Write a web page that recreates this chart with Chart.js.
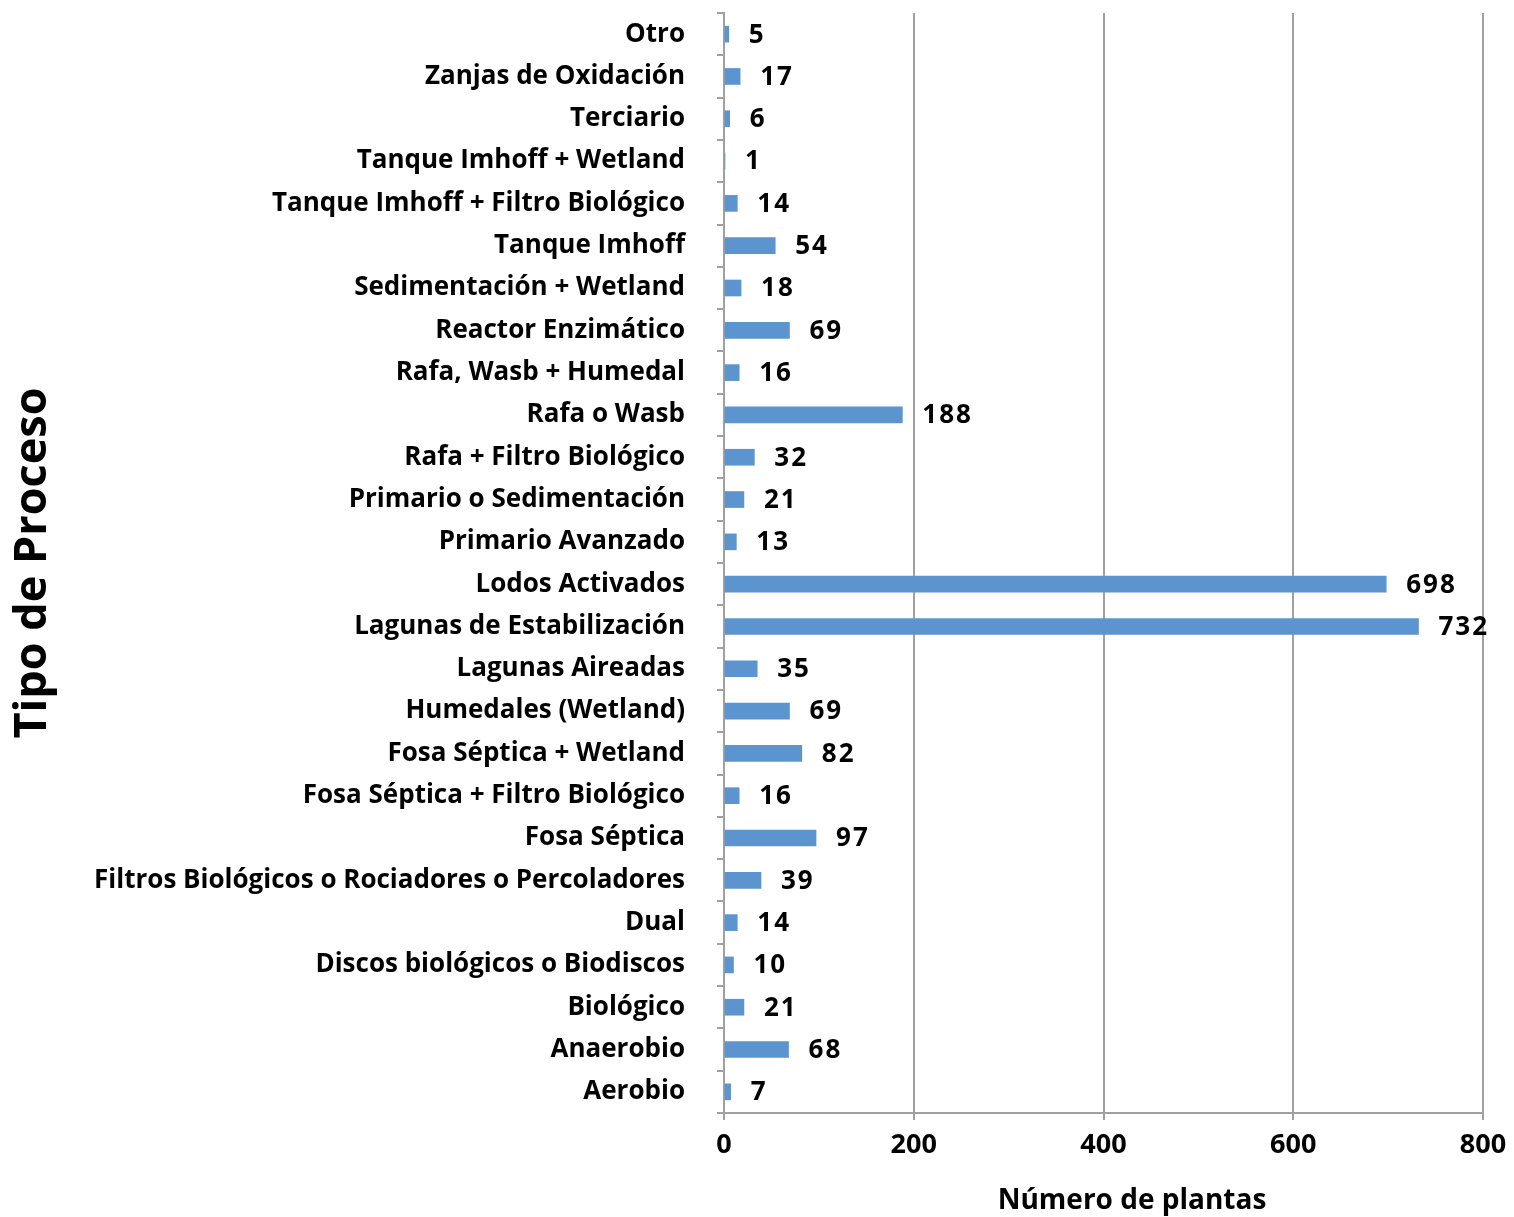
<!DOCTYPE html>
<html><head><meta charset="utf-8">
<script src="https://cdn.jsdelivr.net/npm/chart.js@4"></script>
<style>html,body{margin:0;padding:0;background:#fff}#wrap{width:1514px;height:1217px}</style>
</head><body><div id="wrap"><canvas id="c" width="1514" height="1217"></canvas></div>
<script>
const categories = ["Otro","Zanjas de Oxidación","Terciario","Tanque Imhoff + Wetland","Tanque Imhoff + Filtro Biológico","Tanque Imhoff","Sedimentación + Wetland","Reactor Enzimático","Rafa, Wasb + Humedal","Rafa o Wasb","Rafa + Filtro Biológico","Primario o Sedimentación","Primario Avanzado","Lodos Activados","Lagunas de Estabilización","Lagunas Aireadas","Humedales (Wetland)","Fosa Séptica + Wetland","Fosa Séptica + Filtro Biológico","Fosa Séptica","Filtros Biológicos o Rociadores o Percoladores","Dual","Discos biológicos o Biodiscos","Biológico","Anaerobio","Aerobio"];
const plantCounts = [5,17,6,1,14,54,18,69,16,188,32,21,13,698,732,35,69,82,16,97,39,14,10,21,68,7];
const xTicks = [0,200,400,600,800];
const xTitle = "Número de plantas";
const yTitle = "Tipo de Proceso";

const FONT = "'Open Sans', sans-serif";
const GRID = '#a0a0a0';

const valueLabels = {
  id: 'valueLabels',
  afterDatasetsDraw(chart) {
    const ctx = chart.ctx;
    const meta = chart.getDatasetMeta(0);
    ctx.save();
    ctx.font = "bold 26px " + FONT;
    ctx.letterSpacing = '2px';
    ctx.fillStyle = '#000';
    ctx.textAlign = 'left';
    ctx.textBaseline = 'middle';
    meta.data.forEach((bar, i) => {
      ctx.fillText(String(plantCounts[i]), bar.x + 20, bar.y + 1);
    });
    ctx.restore();
  }
};
const xTitlePlugin = {
  id: 'xTitlePlugin',
  afterDraw(chart) {
    const ctx = chart.ctx;
    ctx.save();
    ctx.font = "bold 28px " + FONT;
    ctx.fillStyle = '#000';
    ctx.textAlign = 'center';
    ctx.textBaseline = 'middle';
    ctx.fillText(xTitle, 1132, 1201);
    ctx.restore();
  }
};

new Chart(document.getElementById('c'), {
  type: 'bar',
  data: {
    labels: categories,
    datasets: [{
      data: plantCounts,
      backgroundColor: '#5b94cf',
      borderWidth: 0,
      barThickness: 16
    }]
  },
  plugins: [valueLabels, xTitlePlugin],
  options: {
    indexAxis: 'y',
    responsive: false,
    animation: false,
    layout: { padding: { top: 13, right: 31, bottom: 0, left: 0 } },
    plugins: { legend: { display: false }, tooltip: { enabled: false } },
    scales: {
      x: {
        min: 0, max: 800,
        afterBuildTicks(s) { s.ticks = xTicks.map(v => ({ value: v })); },
        afterFit(s) { s.height = 104; s.paddingLeft = 0; s.paddingRight = 0; },
        border: { color: GRID, width: 2 },
        grid: { color: GRID, lineWidth: 2, tickLength: 7 },
        ticks: { color: '#000', font: { family: FONT, size: 27, weight: 'bold' }, padding: 9 },
        title: { display: false }
      },
      y: {
        afterFit(s) { s.width = 724; s.paddingTop = 0; s.paddingBottom = 0; },
        border: { color: GRID, width: 2 },
        grid: { drawOnChartArea: false, color: GRID, lineWidth: 2, tickLength: 7, offset: true },
        ticks: { color: '#000', font: { family: FONT, size: 26, weight: 'bold' }, padding: 32, autoSkip: false },
        title: { display: true, text: yTitle, color: '#000', font: { family: FONT, size: 45, weight: 'bold' }, padding: { top: 6, bottom: 0 } }
      }
    }
  }
});
</script></body></html>
